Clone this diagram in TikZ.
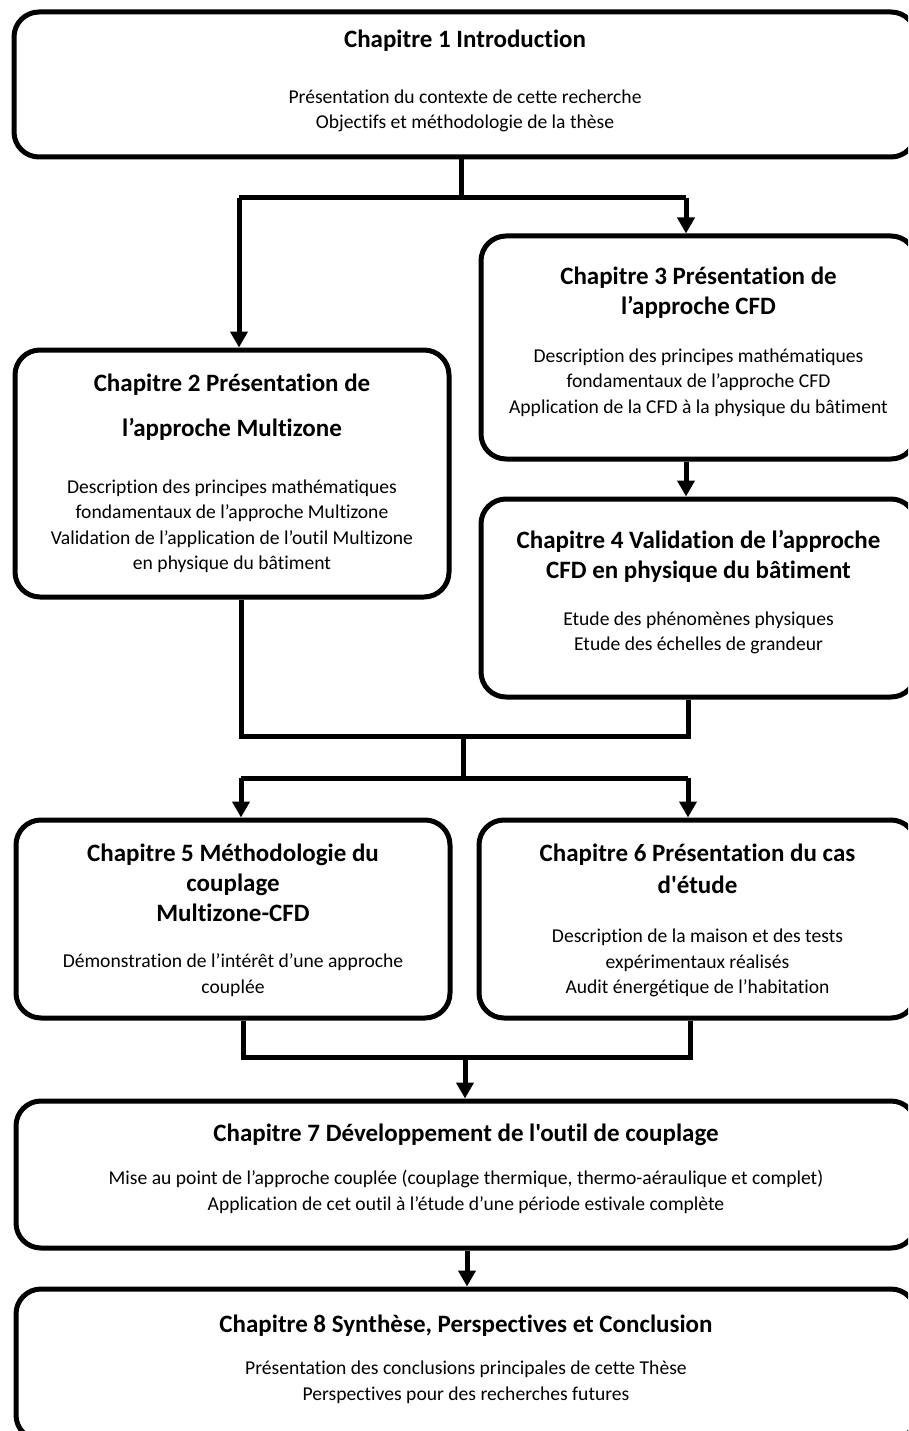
\documentclass[tikz,border=0pt]{standalone}
\usepackage{fontspec}
\newfontfamily\calfont{Carlito}[Ligatures=NoCommon]
\usetikzlibrary{arrows.meta,calc}

\newcommand{\tfont}{\bfseries\fontsize{25}{30}\selectfont}

\begin{document}
\begin{tikzpicture}[x=1pt,y=-1pt,
    chap/.style={draw,line width=5pt,rounded corners=25pt,align=center,inner sep=0pt,
      font=\calfont\fontsize{19.6}{25.5}\selectfont},
    link/.style={line width=5pt},
    arr/.style={line width=5pt,-{Triangle[width=17pt,length=16pt]}}]
      \useasboundingbox (0,0) rectangle (908,1431);
      \clip (0,0) rectangle (908,1431);
      % chapter boxes
      \node[chap,minimum width=902pt,minimum height=145pt,text depth=10.5pt] (b1) at (465,84.5)
        {{\tfont Chapitre 1 Introduction}\\[30pt]
         Présentation du contexte de cette recherche\\
         Objectifs et méthodologie de la thèse};
      \node[chap,minimum width=435pt,minimum height=223pt,text depth=15pt] (b3) at (698.5,347.5)
        {{\tfont Chapitre 3 Présentation de}\\[4.5pt]
         {\tfont l’approche CFD}\\[22pt]
         Description des principes mathématiques\\
         fondamentaux de l’approche CFD\\
         Application de la CFD à la physique du bâtiment};
      \node[chap,minimum width=434pt,minimum height=247pt] (b2) at (232,473.5)
        {{\tfont Chapitre 2 Présentation de}\\[19.5pt]
         {\tfont l’approche Multizone}\\[31pt]
         Description des principes mathématiques\\
         fondamentaux de l’approche Multizone\\
         Validation de l’application de l’outil Multizone\\
         en physique du bâtiment};
      \node[chap,minimum width=435pt,minimum height=198pt,text depth=15pt] (b4) at (698.5,598)
        {{\tfont Chapitre 4 Validation de l’approche}\\[4.5pt]
         {\tfont CFD en physique du bâtiment}\\[21pt]
         Etude des phénomènes physiques\\
         Etude des échelles de grandeur};
      \node[chap,minimum width=434pt,minimum height=198pt,text depth=1.5pt] (b5) at (233,919)
        {{\tfont Chapitre 5 Méthodologie du}\\[4.5pt]
         {\tfont couplage}\\[4.5pt]
         {\tfont Multizone-CFD}\\[21pt]
         Démonstration de l’intérêt d’une approche\\
         couplée};
      \node[chap,minimum width=437pt,minimum height=198pt,text depth=0.5pt] (b6) at (697.5,919)
        {{\tfont Chapitre 6 Présentation du cas}\\[6.5pt]
         {\tfont d'étude}\\[24pt]
         Description de la maison et des tests\\
         expérimentaux réalisés\\
         Audit énergétique de l’habitation};
      \node[chap,minimum width=900pt,minimum height=147pt,text depth=15pt] (b7) at (466,1174.5)
        {{\tfont Chapitre 7 Développement de l'outil de couplage}\\[17.5pt]
         Mise au point de l’approche couplée (couplage thermique, thermo-aéraulique et complet)\\
         Application de cet outil à l’étude d’une période estivale complète};
      \node[chap,minimum width=900pt,minimum height=151pt,text depth=14pt] (b8) at (466,1364.5)
        {{\tfont Chapitre 8 Synthèse, Perspectives et Conclusion}\\[16.5pt]
         Présentation des conclusions principales de cette Thèse\\
         Perspectives pour des recherches futures};
      % junction points
      \coordinate (j1) at (461,198);
      \coordinate (l1) at (239,198);
      \coordinate (r1) at (686,198);
      \coordinate (l2) at (241,736);
      \coordinate (r2) at (688,736);
      \coordinate (j2) at (463,736);
      \coordinate (k2) at (463,778);
      \coordinate (l3) at (241,778);
      \coordinate (r3) at (688,778);
      \coordinate (l4) at (243,1057);
      \coordinate (r4) at (690,1057);
      \coordinate (j4) at (465,1057);
      % connectors
      \draw[link] (b1.south -| j1) -- (j1);
      \draw[link] (l1) -- (r1);
      \draw[arr] (l1) -- (b2.north -| l1);
      \draw[arr] (r1) -- (b3.north -| r1);
      \draw[arr] (b3.south -| r1) -- (b4.north -| r1);
      \draw[link] (b2.south -| l2) -- (l2) -- (r2) -- (b4.south -| r2);
      \draw[link] (j2) -- (k2);
      \draw[link] (l3) -- (r3);
      \draw[arr] (l3) -- (b5.north -| l3);
      \draw[arr] (r3) -- (b6.north -| r3);
      \draw[link] (b5.south -| l4) -- (l4) -- (r4) -- (b6.south -| r4);
      \draw[arr] (j4) -- (b7.north -| j4);
      \draw[arr] (b7.south -| 467,0) -- (b8.north -| 467,0);
\end{tikzpicture}
\end{document}
